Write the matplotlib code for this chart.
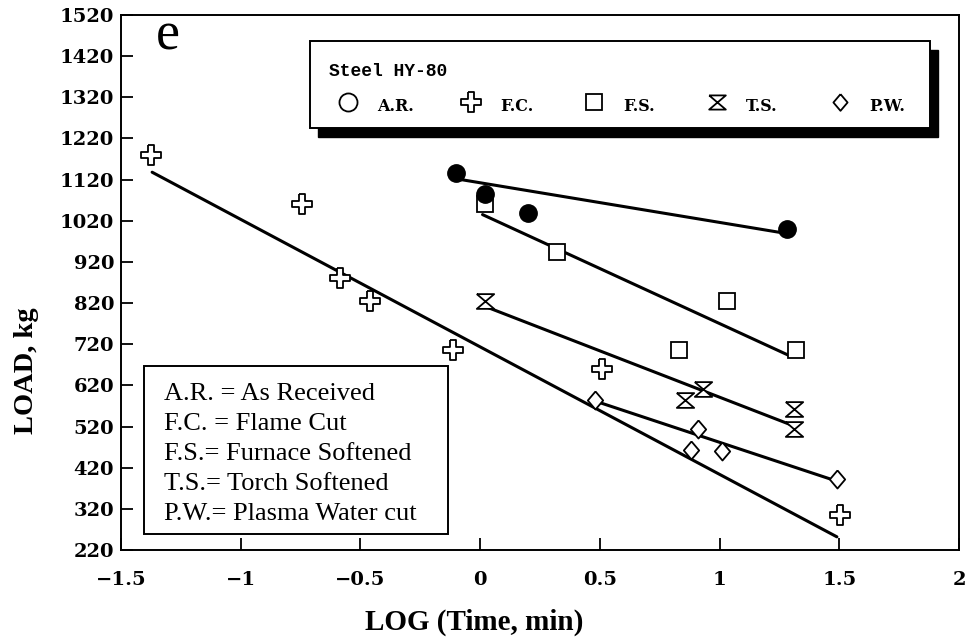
import numpy as np
import matplotlib
matplotlib.use("Agg")
import matplotlib.pyplot as plt
from matplotlib.path import Path
from matplotlib.patches import Rectangle

# Data
ar_x = [-0.10, 0.02, 0.20, 1.28]
ar_y = [1135, 1085, 1040, 1000]
fc_x = [-1.375, -0.745, -0.585, -0.46, -0.115, 0.51, 1.505]
fc_y = [1180, 1060, 880, 825, 705, 660, 305]
fs_x = [0.02, 0.32, 0.83, 1.03, 1.32]
fs_y = [1060, 945, 705, 825, 705]
ts_x = [0.02, 0.855, 0.93, 1.31, 1.31]
ts_y = [825, 585, 612, 563, 515]
pw_x = [0.48, 0.88, 0.91, 1.01, 1.49]
pw_y = [585, 463, 514, 461, 392]

# Fitted lines as drawn in the picture
ar_fit_x, ar_fit_y = [-0.10, 1.27], [1122, 990]
fc_fit_x, fc_fit_y = [-1.37, 1.49], [1138, 252]
fs_fit_x, fs_fit_y = [0.01, 1.30], [1035, 690]
ts_fit_x, ts_fit_y = [0.02, 1.29], [812, 526]
pw_fit_x, pw_fit_y = [0.49, 1.46], [580, 393]

x_ticks = [-1.5, -1, -0.5, 0, 0.5, 1, 1.5, 2]
x_tick_labels = ["\u22121.5", "\u22121", "\u22120.5", "0", "0.5", "1", "1.5", "2"]
y_ticks = list(range(220, 1521, 100))

legend_labels = ["A.R.", "F.C.", "F.S.", "T.S.", "P.W."]
abbrev_lines = ["A.R. = As Received", "F.C. = Flame Cut", "F.S.= Furnace Softened",
                "T.S.= Torch Softened", "P.W.= Plasma Water cut"]

# custom markers
a = 0.3
plus_path = Path([(-a, 1), (a, 1), (a, a), (1, a), (1, -a), (a, -a), (a, -1),
                  (-a, -1), (-a, -a), (-1, -a), (-1, a), (-a, a), (-a, 1)])
hour_path = Path([(-1, 0.85), (1, 0.85), (-1, -0.85), (1, -0.85), (-1, 0.85)])
diam_path = Path([(0, 1), (0.85, 0), (0, -1), (-0.85, 0), (0, 1)])

fig = plt.figure(figsize=(9.67, 6.39), dpi=100)
ax = fig.add_axes([121 / 967, 89 / 639, 838 / 967, 535 / 639])

lw = 2.2
for fx, fy in [(ar_fit_x, ar_fit_y), (fc_fit_x, fc_fit_y), (fs_fit_x, fs_fit_y),
               (ts_fit_x, ts_fit_y), (pw_fit_x, pw_fit_y)]:
    ax.plot(fx, fy, color="black", lw=lw, solid_capstyle="round", zorder=2)

open_kw = dict(ls="none", mfc="white", mec="black", mew=1.3, zorder=3)
ax.plot(fc_x, fc_y, marker=plus_path, ms=15, **open_kw)
ax.plot(fs_x, fs_y, marker="s", ms=11, **open_kw)
ax.plot(ts_x, ts_y, marker=hour_path, ms=12.5, **open_kw)
ax.plot(pw_x, pw_y, marker=diam_path, ms=13, **open_kw)
ax.plot(ar_x, ar_y, ls="none", marker="o", ms=12.5, mfc="black", mec="black", zorder=4)

ax.set_xlim(-1.5, 2)
ax.set_ylim(220, 1520)
ax.set_xticks(x_ticks)
ax.set_xticklabels(x_tick_labels)
ax.set_yticks(y_ticks)
for lab in ax.get_xticklabels() + ax.get_yticklabels():
    lab.set_family("DejaVu Serif")
    lab.set_weight("bold")
    lab.set_fontsize(14)
ax.tick_params(direction="in", length=8.5, width=1.3, top=False, right=False)
ax.tick_params(axis="x", pad=15)
ax.tick_params(axis="y", pad=5)
for sp in ax.spines.values():
    sp.set_linewidth(1.4)

ax.text(0.421, -0.136, "LOG (Time, min)", transform=ax.transAxes, ha="center",
        va="center", family="Liberation Serif", weight="bold", fontsize=21)
ax.text(-0.1122, 0.336, "LOAD, kg", transform=ax.transAxes, ha="center",
        va="center", rotation=90, family="Liberation Serif", weight="bold", fontsize=20.5)
ax.text(0.056, 0.9346, "e", transform=ax.transAxes, ha="center", va="baseline",
        family="Liberation Serif", fontsize=39)

# legend box with heavy shadow
bx0, bx1, by0, by1 = 0.2255, 0.9655, 0.789, 0.951
ax.add_patch(Rectangle((bx0 + 0.0095, by0 - 0.0168), bx1 - bx0, by1 - by0,
                       transform=ax.transAxes, facecolor="black", edgecolor="black",
                       zorder=5, clip_on=False))
ax.add_patch(Rectangle((bx0, by0), bx1 - bx0, by1 - by0, transform=ax.transAxes,
                       facecolor="white", edgecolor="black", lw=1.4, zorder=6,
                       clip_on=False))
ax.text(0.248, 0.895, "Steel HY-80", transform=ax.transAxes, ha="left", va="center",
        family="Liberation Mono", weight="bold", fontsize=13, zorder=7)
leg_markers = [("o", 13), (plus_path, 15), ("s", 11.5), (hour_path, 12), (diam_path, 12)]
for i, (lab, (mk, ms)) in enumerate(zip(legend_labels, leg_markers)):
    mx = 0.2709 + i * 0.1468
    ax.plot([mx], [0.838], transform=ax.transAxes, marker=mk, ms=ms, ls="none",
            mfc="white", mec="black", mew=1.3, zorder=7, clip_on=False)
    ax.text(mx + 0.0347, 0.829, lab, transform=ax.transAxes, ha="left", va="center",
            family="DejaVu Serif", weight="bold", fontsize=11.5, zorder=7)

# abbreviations box
tx0, tx1, ty0, ty1 = 0.0275, 0.390, 0.030, 0.344
ax.add_patch(Rectangle((tx0, ty0), tx1 - tx0, ty1 - ty0, transform=ax.transAxes,
                       facecolor="white", edgecolor="black", lw=1.4, zorder=6))
for i, line in enumerate(abbrev_lines):
    ax.text(0.0513, 0.292 - i * 0.056, line, transform=ax.transAxes, ha="left",
            va="center", family="Liberation Serif", fontsize=19, zorder=7)

fig.savefig("out.png", dpi=100)
